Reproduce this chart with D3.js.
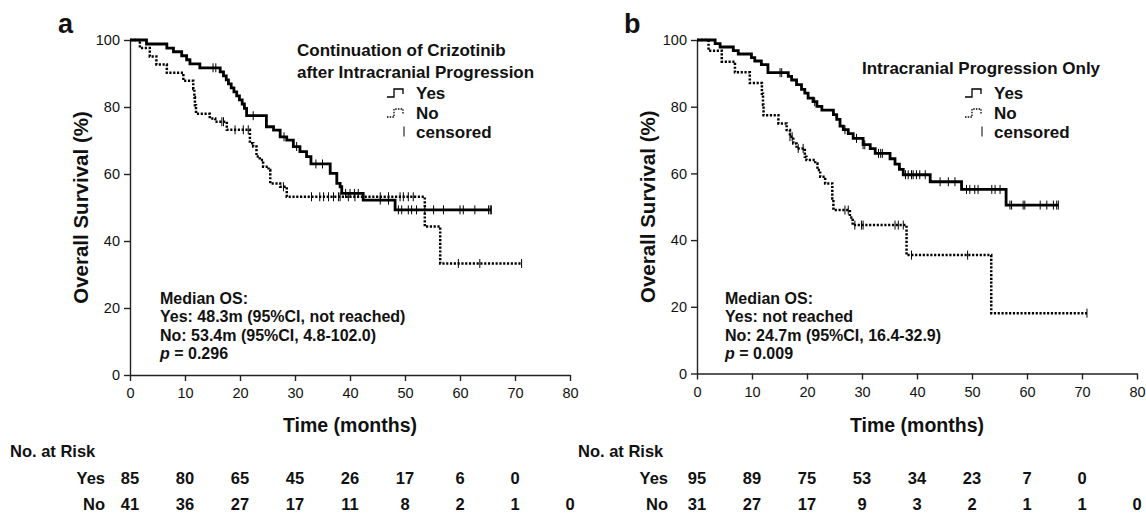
<!DOCTYPE html>
<html><head><meta charset="utf-8">
<script src="https://cdn.jsdelivr.net/npm/d3@7"></script>
<style>
html,body{margin:0;padding:0;background:#fff;}
svg{display:block;}
text{font-family:"Liberation Sans",Arial,Helvetica,sans-serif;fill:#111;}
</style></head>
<body>
<svg id="chart" width="1146" height="514"></svg>
<script>
// ---------- data ----------
const xTicks = [0,10,20,30,40,50,60,70,80];
const yTicks = [0,20,40,60,80,100];
const riskTimes = [0,10,20,30,40,50,60,70,80];

// Panel a: Continuation of Crizotinib after Intracranial Progression
const aYesT = [3.0,6.7,7.9,9.4,10.3,10.9,12.7,16.4,17.0,17.5,17.9,18.4,18.9,19.4,19.9,20.4,20.8,21.2,24.8,26.1,27.3,28.5,29.7,30.9,32.1,32.9,36.4,37.6,38.2,38.5,42.4,48.2];
const aYesS = [98.8,97.6,96.5,95.3,94.1,92.9,91.7,90.5,89.3,88.1,86.9,85.7,84.5,83.3,82.1,80.9,79.6,77.4,74.1,73.1,71.1,70.1,68.2,66.7,65.2,63.0,60.2,57.2,56.2,54.2,52.2,49.3];
const aYesEnd = 65.7;
const aYesCens = [15.1,15.6,22.4,28.0,30.3,33.8,35.0,39.2,40.0,40.8,41.5,45.5,47.0,48.8,49.4,50.6,51.2,52.1,53.6,55.2,57.0,60.0,60.6,62.7,65.2,65.5,65.7];

const aNoT = [1.8,3.6,4.8,6.7,9.7,11.5,11.7,11.8,12.0,14.5,15.5,17.6,21.8,22.4,23.0,23.6,24.2,25.2,25.5,27.3,28.5,53.6,56.4];
const aNoS = [97.6,95.1,92.7,90.2,87.8,85.4,82.9,80.5,78.0,76.6,75.6,73.2,69.2,68.2,65.2,64.2,62.2,61.2,57.2,56.2,53.2,44.3,33.3];
const aNoEnd = 71.2;
const aNoCens = [16.7,17.0,19.1,20.6,21.5,27.9,33.0,34.5,35.2,36.1,37.0,37.9,38.2,39.7,40.9,45.5,47.0,49.1,49.7,50.6,51.5,59.7,63.6,71.2];

const aRiskYes = [85,80,65,45,26,17,6,0];
const aRiskNo = [41,36,27,17,11,8,2,1,0];

// Panel b: Intracranial Progression Only
const bYesT = [3.3,4.2,6.6,7.5,9.9,10.5,11.7,12.9,16.6,17.2,18.1,19.0,19.6,20.2,21.1,21.8,22.7,24.8,25.4,26.0,26.6,27.5,28.4,30.2,31.5,32.4,35.1,36.0,36.8,37.5,42.4,48.1,56.2];
const bYesS = [98.9,97.9,96.8,95.8,94.7,93.7,92.6,90.2,89.1,88.0,86.6,85.2,84.1,82.6,81.5,80.1,79.0,77.6,76.2,74.2,73.1,71.9,70.5,68.6,67.4,66.0,64.4,62.8,61.2,59.6,57.5,55.2,50.5];
const bYesEnd = 65.7;
const bYesCens = [15.1,15.4,21.4,26.9,29.0,30.2,30.5,33.0,33.4,33.7,37.9,38.4,39.0,39.3,39.9,40.5,41.5,44.2,45.7,46.9,49.0,49.6,50.5,51.1,53.6,54.2,55.1,56.9,57.2,59.3,59.6,62.4,63.6,64.8,65.4,65.7];

const bNoT = [2.1,4.5,6.9,9.6,11.8,12.0,12.1,14.8,16.3,16.9,17.5,18.1,19.6,19.9,21.5,21.9,22.4,23.3,24.6,24.8,27.8,28.3,38.1,53.5];
const bNoS = [96.8,93.5,90.3,87.1,83.9,80.6,77.4,75.0,73.0,71.0,69.0,67.5,65.0,64.0,63.0,61.0,59.0,57.0,52.5,49.0,46.8,44.5,35.5,18.1];
const bNoEnd = 70.9;
const bNoCens = [16.9,17.3,18.4,19.3,26.9,27.5,28.7,29.9,30.2,36.0,36.6,37.5,39.0,49.2,70.9];

const bRiskYes = [95,89,75,53,34,23,7,0];
const bRiskNo = [31,27,17,9,3,2,1,1,0];

// ---------- drawing ----------
const svg = d3.select("#chart");

const panels = [
  {label:"a", x0:130, x1:570, yTop:40, yBot:375, letterX:58,
   yTitleX:88,
   legendTitle:["Continuation of Crizotinib","after Intracranial Progression"], legTitleX:297, legTitleY:[56,78],
   legSymX:387, legTextX:416,
   medX:160, med:["Median OS:","Yes: 48.3m (95%CI, not reached)","No: 53.4m (95%CI, 4.8-102.0)"], p:"0.296",
   riskLabelX:10, riskNameX:105,
   yes:{t:aYesT,s:aYesS,end:aYesEnd,c:aYesCens}, no:{t:aNoT,s:aNoS,end:aNoEnd,c:aNoCens},
   riskYes:aRiskYes, riskNo:aRiskNo},
  {label:"b", x0:697, x1:1137, yTop:40, yBot:373.5, letterX:624,
   yTitleX:655,
   legendTitle:["Intracranial Progression Only"], legTitleX:862, legTitleY:[74],
   legSymX:965, legTextX:994,
   medX:725, med:["Median OS:","Yes: not reached","No: 24.7m (95%CI, 16.4-32.9)"], p:"0.009",
   riskLabelX:578, riskNameX:668,
   yes:{t:bYesT,s:bYesS,end:bYesEnd,c:bYesCens}, no:{t:bNoT,s:bNoS,end:bNoEnd,c:bNoCens},
   riskYes:bRiskYes, riskNo:bRiskNo}
];

function survAt(series, t){
  let s = 100;
  for(let i=0;i<series.t.length;i++){ if(series.t[i] <= t) s = series.s[i]; }
  return s;
}

panels.forEach(P => {
  const x = d3.scaleLinear().domain([0,80]).range([P.x0,P.x1]);
  const y = d3.scaleLinear().domain([0,100]).range([P.yBot,P.yTop]);
  const g = svg.append("g");

  // axes
  const xa = g.append("g").attr("transform",`translate(0,${P.yBot})`)
    .call(d3.axisBottom(x).tickValues(xTicks).tickSize(6).tickSizeOuter(0).tickPadding(7));
  const ya = g.append("g").attr("transform",`translate(${P.x0},0)`)
    .call(d3.axisLeft(y).tickValues(yTicks).tickSize(6).tickSizeOuter(0).tickPadding(4));
  [xa,ya].forEach(a=>{
    a.selectAll("path,line").attr("stroke","#222").attr("stroke-width",1.4);
    a.selectAll("text").style("font-size","14.5px").style("font-family","'Liberation Sans',Arial,sans-serif").attr("fill","#111");
  });

  // axis titles
  g.append("text").attr("x",(P.x0+P.x1)/2).attr("y",432).attr("text-anchor","middle")
    .style("font-size","19.5px").style("font-weight","bold").text("Time (months)");
  g.append("text").attr("transform",`translate(${P.yTitleX},${(P.yTop+P.yBot)/2}) rotate(-90)`)
    .attr("text-anchor","middle").style("font-size","20.5px").style("font-weight","bold").text("Overall Survival (%)");

  // panel letter
  g.append("text").attr("x",P.letterX).attr("y",33).style("font-size","27px").style("font-weight","bold").text(P.label);

  // curves
  const line = d3.line().x(d=>x(d[0])).y(d=>y(d[1])).curve(d3.curveStepAfter);
  [["yes",P.yes,null],["no",P.no,"2.2,1.6"]].forEach(([k,ser,dash])=>{
    const pts = [[0,100]];
    ser.t.forEach((t,i)=>pts.push([t,ser.s[i]]));
    pts.push([ser.end, ser.s[ser.s.length-1]]);
    const p = g.append("path").datum(pts).attr("d",line).attr("fill","none")
      .attr("stroke","#000").attr("stroke-width",k==="yes"?2.8:2.5);
    if(dash) p.attr("stroke-dasharray",dash);
    g.selectAll(null).data(ser.c).enter().append("line")
      .attr("x1",d=>x(d)).attr("x2",d=>x(d))
      .attr("y1",d=>y(survAt(ser,d))-4.5).attr("y2",d=>y(survAt(ser,d))+4.5)
      .attr("stroke","#000").attr("stroke-width",1);
  });

  // legend
  P.legendTitle.forEach((t,i)=>{
    g.append("text").attr("x",P.legTitleX).attr("y",P.legTitleY[i])
      .style("font-size","17px").style("font-weight","bold").text(t);
  });
  const items = [["Yes",null,99],["No","1.5,1.2",119],["censored","c",137.5]];
  items.forEach(([name,dash,by])=>{
    const cy = by-6;
    if(dash==="c"){
      g.append("line").attr("x1",P.legSymX+17).attr("x2",P.legSymX+17).attr("y1",cy-5).attr("y2",cy+5)
        .attr("stroke","#000").attr("stroke-width",1);
    } else {
      const sx=P.legSymX;
      const path = `M${sx},${cy+4} H${sx+7} V${cy-4} H${sx+16} V${cy+1}`;
      const p = g.append("path").attr("d",path).attr("fill","none").attr("stroke","#000").attr("stroke-width",1.3);
      if(dash) p.attr("stroke-dasharray",dash);
    }
    g.append("text").attr("x",P.legTextX).attr("y",by).style("font-size","17px").style("font-weight","bold").text(name);
  });

  // median OS text
  const medY = [303.5,322,340.5];
  P.med.forEach((t,i)=>{
    g.append("text").attr("x",P.medX).attr("y",medY[i]).style("font-size","16px").style("font-weight","bold").text(t);
  });
  const pt = g.append("text").attr("x",P.medX).attr("y",359).style("font-size","16px").style("font-weight","bold");
  pt.append("tspan").style("font-style","italic").text("p");
  pt.append("tspan").text(" = "+P.p);

  // risk table
  g.append("text").attr("x",P.riskLabelX).attr("y",457).style("font-size","16.5px").style("font-weight","bold").text("No. at Risk");
  [["Yes",P.riskYes,484],["No",P.riskNo,509.5]].forEach(([nm,vals,by])=>{
    g.append("text").attr("x",P.riskNameX).attr("y",by).attr("text-anchor","end")
      .style("font-size","16.5px").style("font-weight","bold").text(nm);
    g.selectAll(null).data(vals).enter().append("text")
      .attr("x",(d,i)=>x(riskTimes[i])).attr("y",by).attr("text-anchor","middle")
      .style("font-size","16.5px").style("font-weight","bold").text(d=>d);
  });
});
</script>
</body></html>
